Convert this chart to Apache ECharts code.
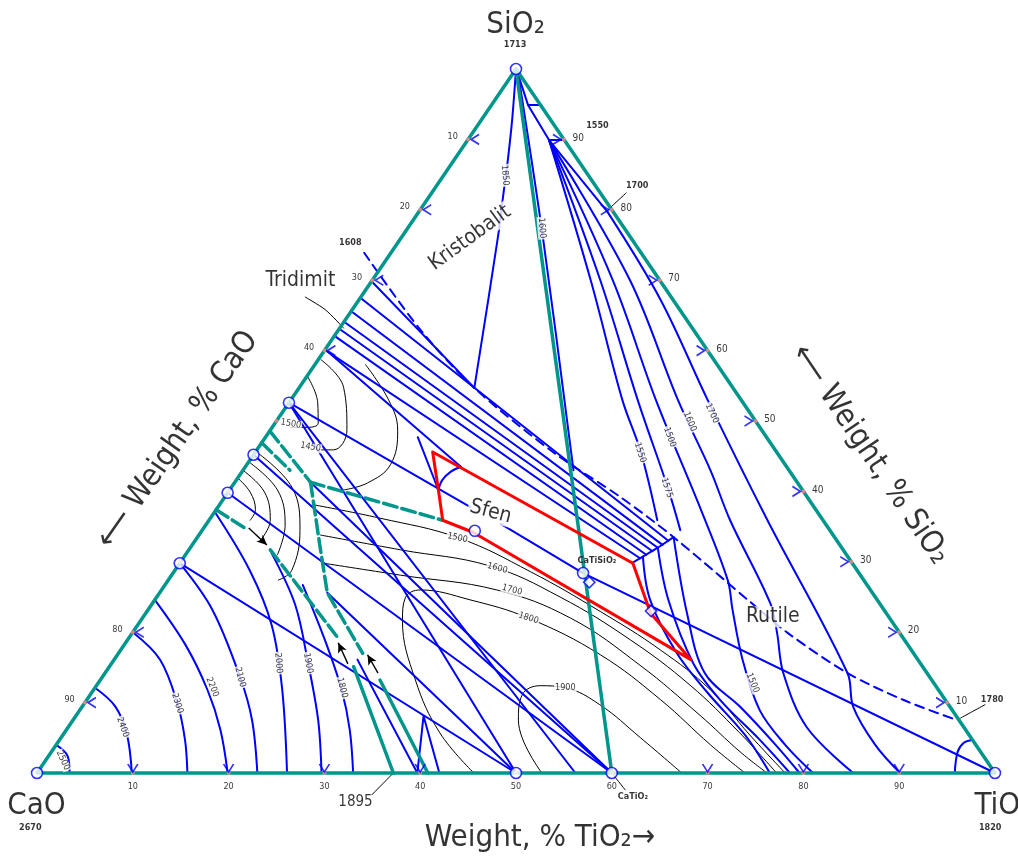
<!DOCTYPE html>
<html><head><meta charset="utf-8">
<script src="https://cdn.jsdelivr.net/npm/echarts@6.0.0/dist/echarts.min.js"></script>
<style>html,body{margin:0;padding:0;background:#fff}#c{width:1018px;height:859px}</style>
</head><body><div id="c"></div>
<script>
// All compositions are [wt% TiO2, wt% SiO2]; CaO = 100 - TiO2 - SiO2
const edgeTicks = [10,20,30,40,50,60,70,80,90];
const bottomTickLabels = [10,20,30,40,50,60,70,80,90];      // wt% TiO2
const leftTickLabels = [10,20,30,40,80,90];                  // wt% CaO
const rightTickLabels = [90,80,70,60,50,40,30,20,10];        // wt% SiO2
const bottomChevrons = [10,20,30,40,70,80,90];
const leftChevrons = [10,20,30,40,80,90];
const rightChevrons = [90,80,70,60,50,40,30,20,10];

const triangle = [[0,0],[100,0],[0,100],[0,0]];
const compounds = [[0,100],[0,0],[100,0],[0,52.6],[0,45.2],[0,39.8],[0,29.8],[50,0],[60,0],[28.5,34.4],[42.8,28.4]];
const diamonds = [[44.1,27.1],[52.6,23.0]];

// teal boundaries
const tealJoin = [[0,100],[60,0]];
const tealA1 = [[0,48.6],[7.9,41.3]];
const tealA2 = [[0,46.9],[4.9,43.0]];
const tealB = [[7.9,41.3],[24.4,35.9]];
const tealC = [[7.9,41.3],[13.5,32.1],[17.5,25.6],[25.5,17.0]];
const tealD = [[8.5,31.7],[21.7,19.3]];
const tealE = [[25.5,15.1],[37.2,0]];
const tealF = [[29.2,13.2],[40.8,0]];
const tealG = [[0,37.4],[4.3,34.8]];

// sphene field (red)
const sfenField = [[18.5,45.6],[47.3,29.8],[52.7,22.7],[60.2,16.1],[28.4,34.2],[24.4,35.9],[21.8,40.2],[18.5,45.6]];

// blue lines
const kristobalitBoundary = [[18.3,54.7],[10.1,76.0],[7.5,82.4],[5.6,87.1],[3.2,92.8],[0,100]];
const tridimitBoundary = [[0.3,69.6],[18.3,54.7]];
const liq1608 = [[-2.8,73.9],[8.6,62.9],[18.3,54.7],[31.2,45.5],[41.3,39.2],[49.7,33.5],[62.3,24.3],[68.4,19.9],[77.5,14.2],[85.2,10.4],[92.3,7.5]];
const tri1 = [[0,67.5],[49.4,33.0]];
const tri2 = [[0,65.6],[49.1,32.4]];
const tri3 = [[0,64.1],[48.8,32.0]];
const tri4 = [[0,63.1],[48.5,31.5]];
const tri5 = [[0,62.1],[48.1,31.0]];
const tri6 = [[0,60.1],[47.7,30.5]];
const junctionSeg = [[47.2,29.8],[48.8,32.0],[49.7,33.5]];
const csSfen = [[0,52.6],[26.3,37.8]];
const sfenInner = [[15.9,47.7],[21.8,40.2]];
const sfenArc = [[21.8,40.2],[21.5,41.6],[21.8,42.8],[22.5,43.5]];
const line40 = [[0.5,59.8],[22.5,43.5]];
const sfenRutile = [[30.7,35.4],[42.8,28.4],[100,0]];
const nearJoin = [[0.7,99.1],[15.0,75.7],[34.5,43.0]];

const iso2500 = [[0,4.0],[2.0,2.4],[3.4,0]];
const iso2400 = [[0,12.1],[3.5,9.4],[6.7,5.4],[9.9,0]];
const iso2300 = [[0,20.0],[4.8,16.1],[9.7,9.9],[13.1,4.7],[15.7,0]];
const iso2200 = [[0,24.6],[6.4,18.2],[11.9,11.8],[16.1,6.1],[19.9,0]];
const iso2100 = [[0,29.8],[6.7,23.2],[14.4,13.6],[18.7,7.5],[23.0,0]];
const iso2000 = [[0,37.1],[7.8,28.8],[14.0,21.0],[19.7,11.8],[26.1,0]];
const iso1900L = [[8.9,31.2],[15.0,23.9],[20.5,15.6],[25.6,7.5],[29.7,0]];
const iso1800L = [[14.4,26.7],[20.6,18.9],[25.9,11.8],[29.6,6.1],[33.0,0]];

const tieC3S = [[0,29.8],[50,0]];
const tieC2S = [[0,39.8],[60,0]];
const tieC3S2 = [[0,45.2],[60,0]];
const tieJunction = [[7.9,41.3],[60,0]];
const tieCS50 = [[0,52.6],[50,0]];
const tieCS2 = [[0,52.6],[56.2,0]];
const tie25 = [[17.5,25.6],[50,0]];
const lineE = [[25.4,16.1],[39.7,0]];
const lambda = [[39.7,0],[36.3,8.1],[42.0,0]];

const apexStep = [[0.7,99.1],[3.8,94.9],[8.5,89.9]];
const apexBar1 = [[3.8,94.9],[5.2,94.9]];
const apexBar2 = [[8.5,89.9],[9.9,89.9]];
const iso1700edge = [[8.5,89.9],[19.7,79.7]];
const iso1550 = [[8.5,89.9],[22.8,70.0],[34.6,53.0],[40.3,45.5],[46.8,35.9]];
const iso1575 = [[8.5,89.9],[23.8,70.0],[36.2,53.0],[45.6,40.5],[49.9,34.5]];
const iso1500 = [[8.5,89.9],[25.1,70.0],[38.1,53.0],[50.6,37.4],[58.4,27.4],[61.0,23.2],[65.6,16.1],[71.0,8.9],[76.1,4.0],[81,0]];
const iso1600 = [[8.5,89.9],[26.9,70.0],[40.4,53.0],[48.8,43.0],[54.4,35.9],[64.5,24.1],[67.3,19.9],[70.8,14.2],[77.1,6.5],[85.2,0]];
const iso1700 = [[19.7,79.7],[31.5,67.2],[43.5,53.0],[58.3,35.9],[77.5,14.2],[80.5,9.4],[85.5,4.0],[90.1,0]];
const rut1 = [[49.7,33.5],[56.5,22.7],[62.6,14.2],[68.7,9.4],[75.1,4.0],[79.6,0]];
const rut2 = [[48.8,32.0],[53.6,24.6],[60.7,15.6],[66.1,10.4],[73.1,4.7],[78.6,0]];
const rut3 = [[47.9,30.7],[51.7,24.6],[58.3,17.0],[64.3,11.4],[71.2,5.4],[76.5,0]];
const tio2Arc = [[95.8,0],[94.6,3.0],[94.6,4.3],[95.3,4.7]];

// black liquidus contours
const blk1500 = [[9.8,38.1],[17.7,36.2],[27.3,33.4],[37.2,28.6],[47.4,22.9],[56.3,17.5],[64.4,11.8],[71.7,5.4],[78.1,0]];
const blk1600 = [[12.7,33.8],[22.1,31.7],[32.6,29.4],[42.1,25.0],[52.5,18.9],[61.9,12.5],[70.5,5.7],[77.2,0]];
const blk1700 = [[15.0,29.8],[23.9,28.1],[35.0,26.0],[44.7,22.0],[55.3,15.3],[65.1,8.2],[71.9,3.0],[76.2,0]];
const blk1800 = [[45.6,0],[39.2,5.7],[32.9,13.2],[27.3,21.7],[26.0,24.9],[27.0,26.0],[32.9,24.6],[40.3,22.0],[50.4,16.8],[59.9,10.4],[68.3,4.0],[73.9,0]];
const blk1900 = [[52.7,0],[46.5,7.5],[45.1,11.1],[46.3,12.4],[49.1,12.1],[53.9,9.7],[60.5,5.0],[67.3,0]];
const blkS1500 = [[0.1,56.3],[3.0,52.6],[4.5,49.7],[3.7,49.1],[1.9,49.1]];
const blkS1450 = [[0.3,58.7],[4.6,54.8],[8.0,48.7],[8.0,45.9],[6.3,45.9]];
const blkArcBig = [[5.3,58.0],[10.2,53.0],[13.3,48.7],[15.0,43.8],[13.9,41.2],[11.9,40.2]];
const blkArcA = [[0,41.9],[2.3,39.9],[4.1,37.4],[4.3,35.9]];
const blkArcB = [[0,43.0],[3.8,39.9],[6.4,35.9],[6.8,33.1]];
const blkArcC = [[0,44.2],[5.0,40.2],[8.3,35.2],[9.6,31.0]];
const blkArcD = [[0.1,45.6],[6.4,40.5],[10.2,34.5],[12.2,28.8],[11.5,27.4]];

// leader lines
const leadTridimit = [[-5.8,67.6],[-2.8,65.8],[0.4,63.2]];
const lead1895 = [[36.5,-3.1],[37.2,0]];
const lead1780 = [[94.1,9.7],[92.5,7.8]];
const lead1700 = [[20.3,82.4],[19.6,80]];
const leadCaTiO3 = [[60,0],[62.6,-2.4]];
const arrowsBlack = [[[4.7,34.8],[7.8,32.4]],[[24.7,15.5],[22.2,18.5]],[[28.5,14.2],[26.1,16.8]]];

// text labels [text, TiO2, SiO2]
const blueIsoLabels = [['1850',6.4,84.9],['1600',14.0,77.4],['1700',44.9,51.1],['1600',43.2,49.9],['1500',42.2,47.7],['1550',40.2,45.5],['1575',45.5,40.5],['1500',68.3,12.8],
  ['2500',1.8,1.8],['2400',5.7,6.5],['2300',9.7,9.9],['2200',12.2,12.2],['2100',14.4,13.6],['2000',17.4,15.6],['1900',20.5,15.6],['1800',25.8,12.1]];
const blueIsoAngles = [-85,-85,-65,-68,-70,-72,-72,-68,-65,-70,-72,-68,-75,-85,-80,-75];
const blackIsoLabels = [['1500',27.2,33.4],['1600',33.5,29.1],['1700',36.6,26.0],['1800',40.3,22.0],['1900',49.1,12.1],['1500',1.7,49.6],['1450',5.4,46.3]];
const blackIsoAngles = [-12,-15,-15,-18,0,-10,-10];
const phaseLabels = [['Kristobalit',7.2,76.0],['Tridimit',-7.5,70.0],['Sfen',28.8,37.1],['Rutile',65.7,22.2]];
const phaseAngles = [36,0,-15,0];
const smallLabels = [['1713',-1.8,103.4],['2670',3.2,-7.8],['1820',103.4,-7.8],['1608',-5.0,75.4],['1550',12.5,92.0],['1700',20.9,83.5],['1780',94.5,10.4],['CaTiO₂',63.9,-3.4],['CaTiSiO₂',43.4,30.1]];
const bigLabels = [['SiO₂',-3.2,106.3],['CaO',2.3,-4.7]];
const titleLabels = [['Weight, % TiO₂→',57.1,-9.2],['⟵ Weight, % CaO',-8.95,47.3],['⟵ Weight, % SiO₂',64.35,45.2]];
const titleAngles = [0,55,-56];

const FONT = "'Liberation Sans Narrow','DejaVu Sans Condensed','Liberation Sans',sans-serif";
const BLUE = '#0000ff', TEAL = '#00968c', RED = '#ff0000', BLACK = '#000000';
const P = (t, s) => [t + s / 2, s];
const conv = pts => pts.map(p => P(p[0], p[1]));

function L(pts, color, width, opt) {
  opt = opt || {};
  return {type:'line', data:conv(pts), symbol:'none', showSymbol:false, silent:true, clip:false,
    animation:false, z:opt.z || 2, smooth:opt.smooth || false,
    lineStyle:{color:color, width:width, type:opt.type || 'solid', cap:'round', join:'round'}};
}
function T(items, angles, st) {
  return {type:'scatter', silent:true, clip:false, animation:false, z:st.z || 10,
    symbol:'circle', symbolSize:0.01, itemStyle:{color:'rgba(0,0,0,0)'},
    data:items.map((it, i) => ({value:P(it[1], it[2]), label:{formatter:it[0], rotate:angles ? angles[i] : 0}})),
    label:{show:true, position:'inside', fontFamily:FONT, fontSize:st.size, color:st.color || '#000',
      backgroundColor:st.bg || 'transparent', padding:st.pad || 0, fontStyle:st.italic ? 'italic' : 'normal',
      fontWeight:st.weight || 'normal', align:st.align || 'center', verticalAlign:'middle'}};
}
function S(pts, symbol, size, style, offset, z) {
  return {type:'scatter', silent:true, clip:false, animation:false, z:z || 8, symbol:symbol, symbolSize:size,
    symbolOffset:offset || [0,0], data:conv(pts), itemStyle:style};
}

const series = [];
// black contours
[blk1500, blk1600, blk1700, blk1800, blk1900, blkS1500, blkS1450, blkArcBig, blkArcA, blkArcB, blkArcC, blkArcD]
  .forEach(a => series.push(L(a, BLACK, 1, {smooth:0.4, z:1})));
[leadTridimit, lead1895, lead1780, lead1700, leadCaTiO3].forEach(a => series.push(L(a, BLACK, 1, {smooth:0.3, z:1})));
// blue straight lines
[tridimitBoundary, tri1, tri2, tri3, tri4, tri5, tri6, junctionSeg, csSfen, sfenInner, line40, sfenRutile,
 tieC3S, tieC2S, tieC3S2, tieJunction, tieCS50, tieCS2, tie25, lineE, lambda, apexStep, apexBar1, apexBar2, iso1700edge]
  .forEach(a => series.push(L(a, BLUE, 2, {z:2})));
// blue curves
[kristobalitBoundary, nearJoin, sfenArc, iso2500, iso2400, iso2300, iso2200, iso2100, iso2000, iso1900L, iso1800L,
 iso1550, iso1575, iso1500, iso1600, iso1700, rut1, rut2, rut3, tio2Arc]
  .forEach(a => series.push(L(a, BLUE, 2, {smooth:0.35, z:2})));
series.push(L(liq1608, BLUE, 2, {type:[9,6], smooth:0.3, z:2}));
// teal
const edge = L(triangle, TEAL, 3.5, {z:4});
edge.markLine = {silent:true, animation:false, symbol:['none','arrow'], symbolSize:[7,10], label:{show:false},
  lineStyle:{color:BLACK, width:1.4, type:'solid'},
  data:arrowsBlack.map(a => [{coord:P(a[0][0], a[0][1])}, {coord:P(a[1][0], a[1][1])}])};
series.push(edge);
series.push(L(tealJoin, TEAL, 3.5, {z:4}));
[tealA1, tealA2, tealB, tealC, tealD, tealG].forEach(a => series.push(L(a, TEAL, 3.5, {type:[14,5], z:4})));
[tealE, tealF].forEach(a => series.push(L(a, TEAL, 3.5, {z:4})));
// red
series.push(L(sfenField, RED, 3, {z:5}));
// marks
series.push(S(edgeTicks.map(v => [v,0]).concat(edgeTicks.map(v => [0,v])).concat(edgeTicks.map(v => [100 - v, v])),
  'circle', 4, {color:'#ff8a8a'}, [0,0], 6));
series.push(S(bottomChevrons.map(v => [v,0]), 'path://M0,0L5,7L10,0', [10,8], {color:'none', borderColor:BLUE, borderWidth:1.6}, [0,-5], 7));
series.push(S(leftChevrons.map(c => [0,100 - c]), 'path://M8,0L0,5L8,10', [8,10], {color:'none', borderColor:BLUE, borderWidth:1.6}, [7,0], 7));
series.push(S(rightChevrons.map(s => [100 - s, s]), 'path://M0,0L8,5L0,10', [8,10], {color:'none', borderColor:BLUE, borderWidth:1.6}, [-7,0], 7));
series.push(S(compounds, 'circle', 11, {color:'#fff', borderColor:BLUE, borderWidth:1.6}, [0,0], 8));
series.push(S(diamonds, 'rect', 8, {color:'#fff', borderColor:BLUE, borderWidth:1.6}, [0,0], 8));
series[series.length - 1].symbolRotate = 45;
// labels
series.push(T(bottomTickLabels.map(v => [String(v), v + 1.0, -2.0]), null, {size:9}));
series.push(T(leftTickLabels.map(c => [String(c), -1.8, 100 - c + 0.4]), null, {size:9}));
series.push(T(rightTickLabels.map(s => [String(s), 100 - s + 1.4, s + 0.2]), null, {size:10}));
series.push(T(blueIsoLabels, blueIsoAngles, {size:9, bg:'#fff', pad:[0,1]}));
series.push(T(blackIsoLabels, blackIsoAngles, {size:9, bg:'#fff', pad:[0,1]}));
series.push(T(phaseLabels, phaseAngles, {size:21, bg:'#fff', pad:[0,2]}));
series.push(T(smallLabels, null, {size:9, weight:'bold'}));
series.push(T([['1895',35.3,-4.1]], null, {size:15}));
series.push(T(bigLabels, null, {size:31}));
series.push(T([['TiO₂',100.2,-4.7]], null, {size:31, align:'left'}));
series.push(T(titleLabels, titleAngles, {size:31}));

const chart = echarts.init(document.getElementById('c'), null, {renderer:'canvas'});
chart.setOption({
  animation:false,
  backgroundColor:'#fff',
  grid:{left:37, right:23, top:69, bottom:86},
  xAxis:{type:'value', min:0, max:100, show:false},
  yAxis:{type:'value', min:0, max:100, show:false},
  series:series
});
</script></body></html>
